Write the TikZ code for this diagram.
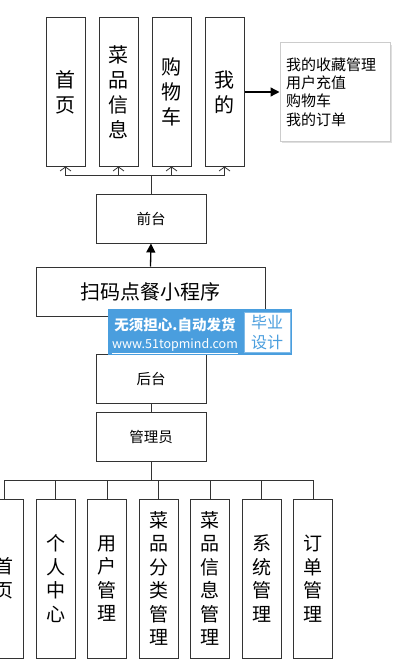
\documentclass[tikz,border=0pt]{standalone}
\usepackage{fontspec}
\newfontfamily\cjk{Noto Sans CJK SC}
\usetikzlibrary{arrows.meta,shadows}
\definecolor{markblue}{RGB}{74,158,222}

\begin{document}
\begin{tikzpicture}[
  x=1pt,y=-1pt,
  line width=1pt,
  every node/.style={font=\cjk},
  topcol/.style={draw=black!80,minimum width=39pt,minimum height=148pt,
    inner sep=0pt,align=center,font=\cjk\fontsize{20}{25}\selectfont},
  lowcol/.style={draw=black!80,minimum width=39pt,minimum height=159pt,
    inner sep=0pt,align=center,font=\cjk\fontsize{19}{23.5}\selectfont},
  wide/.style={draw=black!80,minimum width=110pt,minimum height=49pt,
    inner sep=0pt,font=\cjk\fontsize{14.5}{16}\selectfont},
  feed/.style={draw=black!80,line width=0.9pt,
    -{Straight Barb[length=4pt,width=11pt,line width=0.8pt]}},
  branch/.style={draw=black!80,line width=0.9pt},
  solid tip/.style={draw=black,line width=1.3pt,-{Triangle[length=9pt,width=9pt]}}
]
  \clip (0,0) rectangle (401,666);

  % Front end modules.
  \node[topcol] (home) at (65.5,92) {首\\页};
  \node[topcol] (dish) at (118.5,92) {菜\\品\\信\\息};
  \node[topcol] (cart) at (171.5,92) {购\\物\\车};
  \node[topcol] (mine) at (224.5,92) {我\\的};
  \node[draw=black!20,drop shadow={opacity=0.25},fill=white,
    minimum width=110pt,minimum height=98pt,text width=98pt,align=left,
    font=\cjk\fontsize{15}{18.3}\selectfont] (minelist) at (335,92)
    {我的收藏管理\\用户充值\\购物车\\我的订单};
  \draw[solid tip] (mine.east) -- (minelist.west);

  \node[wide] (front) at (151,218.5) {前台};
  \coordinate (topbus) at (151,175);
  \draw[feed] (front.north) -- (topbus) -| (home.south);
  \draw[feed] (topbus) -| (dish.south);
  \draw[feed] (topbus) -| (cart.south);
  \draw[feed] (topbus) -| (mine.south);

  % The mini program itself.
  \node[wide,minimum width=229pt,font=\cjk\fontsize{20}{24}\selectfont]
    (app) at (150.5,291.5) {扫码点餐小程序};
  \draw[solid tip] (app.north) -- (front.south);

  % Back end.
  \node[wide] (back) at (151,379) {后台};
  \node[wide] (admin) at (151,436.5) {管理员};
  \draw[branch] (back.south) -- (admin.north);

  \node[lowcol] (a1) at (4,578.5) {首\\页};
  \node[lowcol] (a2) at (55.5,578.5) {个\\人\\中\\心};
  \node[lowcol] (a3) at (107,578.5) {用\\户\\管\\理};
  \node[lowcol] (a4) at (158.5,578.5) {菜\\品\\分\\类\\管\\理};
  \node[lowcol] (a5) at (210,578.5) {菜\\品\\信\\息\\管\\理};
  \node[lowcol] (a6) at (261.5,578.5) {系\\统\\管\\理};
  \node[lowcol] (a7) at (313,578.5) {订\\单\\管\\理};
  \coordinate (lowbus) at (151,480);
  \draw[branch] (admin.south) -- (lowbus);
  \foreach \k in {1,...,7}
    \draw[branch] (lowbus) -| (a\k.north);

  % Watermark laid over the middle.
  \node[fill=markblue,minimum width=184pt,minimum height=46pt,inner sep=0pt]
    (mark) at (200,332) {};
  \node[fill=white,draw=markblue!70,minimum width=46pt,minimum height=40pt,
    inner sep=0pt,align=center,text=markblue,
    font=\cjk\fontsize{16}{20}\selectfont] (markside) at (267,332) {毕业\\设计};
  \node[text=white,inner sep=0pt,font=\cjk\bfseries\fontsize{14.5}{16}\selectfont]
    (markhead) at (175,325) {无须担心.自动发货};
  \node[text=white,inner sep=0pt,font=\cjk\fontsize{12.5}{14}\selectfont]
    (markurl) at (175,346) {\underline{www.51topmind.com}};
\end{tikzpicture}
\end{document}
